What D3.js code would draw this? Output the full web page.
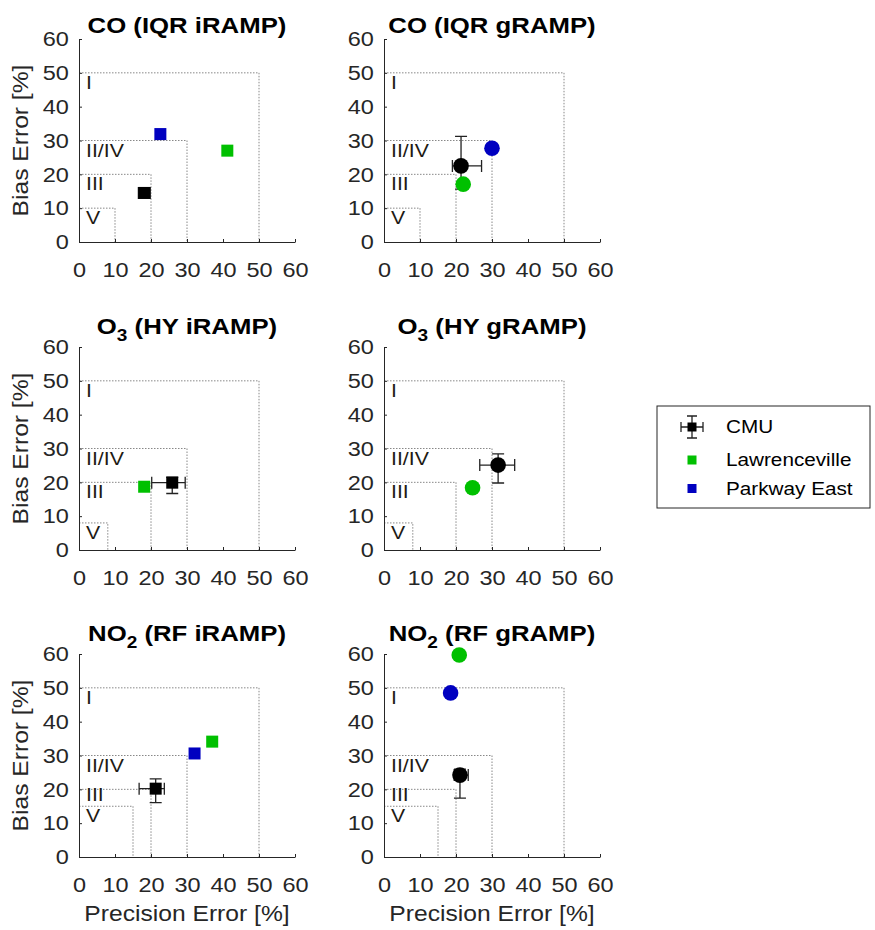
<!DOCTYPE html>
<html>
<head>
<meta charset="utf-8">
<script src="https://cdn.jsdelivr.net/npm/d3@7"></script>
<style>
  body { margin: 0; background: #fff; }
  text { font-family: "Liberation Sans", Arial, sans-serif; }
</style>
</head>
<body>
<div id="chart"></div>
<script>
// Panel titles (main part, subscript, rest)
var titleMain = ["CO", "CO", "O", "O", "NO", "NO"];
var titleSub = ["", "", "3", "3", "2", "2"];
var titleRest = [" (IQR iRAMP)", " (IQR gRAMP)", " (HY iRAMP)", " (HY gRAMP)", " (RF iRAMP)", " (RF gRAMP)"];

// Performance regions (I, II/IV, III, V) per panel
var regionNames = ["I", "II/IV", "III", "V"];
var regionLimits = [
  [50, 30, 20, 10], [50, 30, 20, 10],
  [50, 30, 20, 8], [50, 30, 20, 8],
  [50, 30, 20, 15], [50, 30, 20, 15]
];

var axisTicks = [0, 10, 20, 30, 40, 50, 60];

// CMU with error bars
var cmuPrec = [18.1, 21.4, 25.9, 31.7, 21.3, 21.1];
var cmuPrecLo = [16.5, 19.0, 20.2, 26.6, 16.7, 19.5];
var cmuPrecHi = [19.8, 27.1, 29.5, 36.3, 23.7, 23.4];
var cmuBias = [14.5, 22.5, 19.9, 25.1, 20.2, 24.2];
var cmuBiasLo = [13.0, 15.6, 16.7, 19.8, 16.1, 17.4];
var cmuBiasHi = [16.0, 31.2, 21.5, 28.4, 23.1, 26.0];

// Lawrenceville
var lawPrec = [41.2, 22.0, 18.1, 24.6, 37.0, 20.9];
var lawBias = [27.0, 17.1, 18.7, 18.4, 34.1, 59.7];

// Parkway East (no O3 data)
var pkwPrec = [22.6, 30.0, null, null, 32.1, 18.5];
var pkwBias = [31.9, 27.7, null, null, 30.6, 48.5];

var legendNames = ["CMU", "Lawrenceville", "Parkway East"];
var siteColors = ["#000000", "#00c000", "#0000c0"];

// Layout
var svgWidth = 875;
var svgHeight = 930;
var colLeft = [79, 384];
var rowBottom = [242, 550, 857];
var plotW = 216;
var plotH = 203;
var stretch = 1.12;   // the original text renders a bit wide
var axisColor = "#262626";

var svg = d3.select("#chart")
  .append("svg")
  .attr("width", svgWidth)
  .attr("height", svgHeight);

var x = d3.scaleLinear().domain([0, 60]).range([0, plotW]);
var y = d3.scaleLinear().domain([0, 60]).range([plotH, 0]);

function marker(g, shape, px, py, color) {
  if (shape == "square") {
    g.append("rect")
      .attr("x", px - 6).attr("y", py - 6)
      .attr("width", 12).attr("height", 12)
      .attr("fill", color);
  } else {
    g.append("circle")
      .attr("cx", px).attr("cy", py)
      .attr("r", 7.8)
      .attr("fill", color);
  }
}

function errorBars(g, cx, cy, x0, x1, y0, y1, cap) {
  var p = d3.path();
  p.moveTo(x0, cy); p.lineTo(x1, cy);
  p.moveTo(x0, cy - cap); p.lineTo(x0, cy + cap);
  p.moveTo(x1, cy - cap); p.lineTo(x1, cy + cap);
  p.moveTo(cx, y0); p.lineTo(cx, y1);
  p.moveTo(cx - cap, y0); p.lineTo(cx + cap, y0);
  p.moveTo(cx - cap, y1); p.lineTo(cx + cap, y1);
  g.append("path")
    .attr("d", p.toString())
    .attr("fill", "none")
    .attr("stroke", "#222")
    .attr("stroke-width", 1.3);
}

titleMain.forEach(function(t, i) {
  var col = i % 2;
  var row = Math.floor(i / 2);
  var shape = col == 0 ? "square" : "circle";

  var g = svg.append("g")
    .attr("transform", `translate(${colLeft[col]}, ${rowBottom[row] - plotH})`);

  // region boxes
  var lims = regionLimits[i];
  lims.forEach(function(lim, k) {
    g.append("path")
      .attr("d", `M${x(0)},${y(lim)}H${x(lim)}V${y(0)}`)
      .attr("fill", "none")
      .attr("stroke", "#888")
      .attr("stroke-width", 1)
      .attr("stroke-dasharray", "1.5,1.5");
    // keep the label clear of the next (lower) box
    var base = y(lim) + 16;
    if (k < lims.length - 1) base = Math.min(base, y(lims[k + 1]) - 5);
    g.append("text")
      .attr("transform", `translate(7, ${base}) scale(${stretch},1)`)
      .attr("font-size", 19)
      .attr("fill", "#1e1a14")
      .text(regionNames[k]);
  });

  // axes
  var leftAxis = d3.axisLeft(y).tickValues(axisTicks).tickSize(-3).tickSizeOuter(0).tickPadding(9);
  var bottomAxis = d3.axisBottom(x).tickValues(axisTicks).tickSize(-3).tickSizeOuter(0).tickPadding(20);

  var ga = g.append("g").call(leftAxis);
  var gb = g.append("g").attr("transform", `translate(0, ${plotH})`).call(bottomAxis);
  [ga, gb].forEach(function(a) {
    a.selectAll("path, line").attr("stroke", axisColor);
    a.selectAll("text")
      .attr("fill", axisColor)
      .attr("font-size", 21)
      .attr("font-family", "Liberation Sans, Arial, sans-serif")
      .attr("transform", `scale(${stretch},1)`);
  });

  // CMU with error bars
  errorBars(g, x(cmuPrec[i]), y(cmuBias[i]),
    x(cmuPrecLo[i]), x(cmuPrecHi[i]), y(cmuBiasLo[i]), y(cmuBiasHi[i]), 6);
  marker(g, shape, x(cmuPrec[i]), y(cmuBias[i]), siteColors[0]);
  marker(g, shape, x(lawPrec[i]), y(lawBias[i]), siteColors[1]);
  if (pkwPrec[i] != null) {
    marker(g, shape, x(pkwPrec[i]), y(pkwBias[i]), siteColors[2]);
  }

  // title
  var titleY = titleSub[i] ? -13.5 : -6;
  var title = g.append("text")
    .attr("transform", `translate(${plotW / 2}, ${titleY}) scale(${stretch},1)`)
    .attr("text-anchor", "middle")
    .attr("font-size", 23)
    .attr("font-weight", "bold")
    .attr("fill", "#000");
  title.append("tspan").text(t);
  if (titleSub[i]) {
    title.append("tspan").attr("font-size", 17).attr("dy", 7).text(titleSub[i]);
    title.append("tspan").attr("dy", -7).text(titleRest[i]);
  } else {
    title.append("tspan").text(titleRest[i]);
  }

  // axis labels
  if (col == 0) {
    g.append("text")
      .attr("transform", `translate(-51, ${plotH / 2}) rotate(-90) scale(${stretch},1)`)
      .attr("text-anchor", "middle")
      .attr("font-size", 22)
      .attr("fill", axisColor)
      .text("Bias Error [%]");
  }
  if (row == 2) {
    g.append("text")
      .attr("transform", `translate(${plotW / 2}, ${plotH + 64}) scale(${stretch},1)`)
      .attr("text-anchor", "middle")
      .attr("font-size", 22)
      .attr("fill", axisColor)
      .text("Precision Error [%]");
  }
});

// Legend
var legend = svg.append("g").attr("transform", "translate(657, 406)");
legend.append("rect")
  .attr("width", 213).attr("height", 102)
  .attr("fill", "#fff")
  .attr("stroke", axisColor)
  .attr("stroke-width", 1);

var legendY = [21, 54, 82.5];
legendNames.forEach(function(name, k) {
  var mx = 35, my = legendY[k];
  if (k == 0) {
    errorBars(legend, mx, my, mx - 11, mx + 11, my + 11, my - 11, 5);
  }
  legend.append("rect")
    .attr("x", mx - 4.5).attr("y", my - 4.5)
    .attr("width", 9).attr("height", 9)
    .attr("fill", siteColors[k]);
  legend.append("text")
    .attr("transform", `translate(69, ${my}) scale(${stretch},1)`)
    .attr("dy", "0.35em")
    .attr("font-size", 18.5)
    .attr("fill", "#000")
    .text(name);
});
</script>
</body>
</html>
